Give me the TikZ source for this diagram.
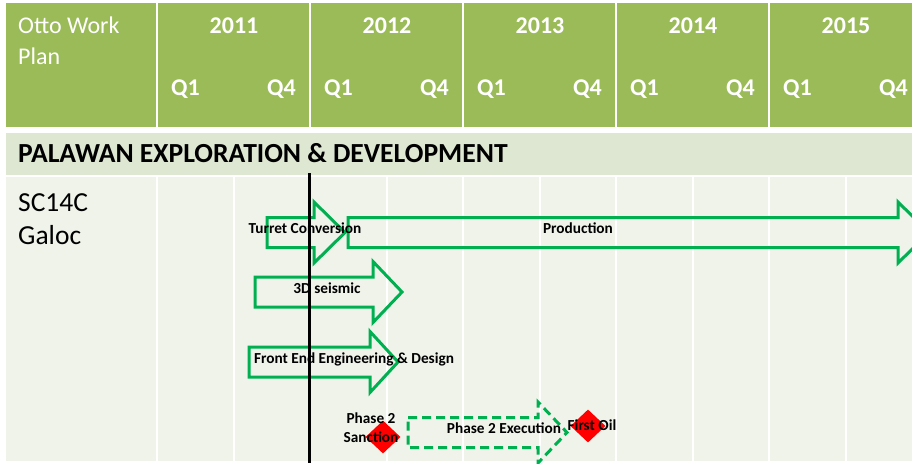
\documentclass[tikz,border=0pt]{standalone}
\usepackage{fontspec}
\setmainfont{Carlito}
\usetikzlibrary{shapes.geometric}
\definecolor{hdrgreen}{HTML}{9BBB59}
\definecolor{bandgreen}{HTML}{DEE7D2}
\definecolor{rowgreen}{HTML}{EFF3EA}
\definecolor{taskgreen}{HTML}{00B050}
\tikzstyle{hdrtext} =
[text=white, inner sep=0pt, font=\fontsize{24}{31}\selectfont\bfseries]
\tikzstyle{rowtext} =
[inner sep=0pt, align=left, font=\fontsize{27.5}{33}\selectfont]
\tikzstyle{gridline} = [draw=white, line width=2pt]
\tikzstyle{task} = [draw=taskgreen, line width=3pt, miter limit=20]
\tikzstyle{plannedtask} = [task, dash pattern=on 9pt off 5pt]
\tikzstyle{tasklabel} =
[inner sep=0pt, align=center, font=\fontsize{15.3}{19}\selectfont\bfseries]
\tikzstyle{milestone} =
[diamond, fill=red, minimum width=35pt, minimum height=33pt, inner sep=0pt]
% block arrow: style, tail x, head x, tip x, centre y
\newcommand{\taskarrow}[5]{%
  \draw [#1] (#2,#5-15) -- (#3,#5-15) -- (#3,#5-30.5) -- (#4,#5)
    -- (#3,#5+30.5) -- (#3,#5+15) -- (#2,#5+15) -- cycle;}

\begin{document}
\begin{tikzpicture}[x=1pt, y=-1pt]
  \useasboundingbox (0,0) rectangle (912,463);
  \clip (0,0) rectangle (912,463);
  % header row
  \fill [hdrgreen] (6,3) rectangle (912,127);
  \node [hdrtext, font=\fontsize{24}{31}\selectfont, anchor=base west,
    align=left] (plan) at (18,64) {Otto Work\\Plan};
  \foreach \yr [count=\i from 0] in {2011,2012,2013,2014,2015} {
    \path [gridline] (157+153*\i,3) -- (157+153*\i,127);
    \node [hdrtext, anchor=base] (yr\yr) at (234+153*\i,33) {\yr};
    \node [hdrtext, anchor=base west] (qa\yr) at (171+153*\i,95) {Q1};
    \node [hdrtext, anchor=base east] (qd\yr) at (296+153*\i,95) {Q4};
  }
  %
  % section band
  \fill [bandgreen] (6,133) rectangle (912,175);
  \node [rowtext, font=\fontsize{27.6}{33}\selectfont\bfseries, anchor=base west]
    (palawan) at (18,162) {PALAWAN EXPLORATION \& DEVELOPMENT};
  %
  % body row with half year grid
  \fill [rowgreen] (6,177) rectangle (912,461);
  \foreach \k in {0,...,9}
    \path [gridline] (157+76.5*\k,177) -- (157+76.5*\k,461);
  \node [rowtext, anchor=base west] (galoc) at (18,244) {SC14C\\Galoc};
  %
  % task arrows
  \taskarrow{task}{267}{314}{345}{232.5}
  \taskarrow{task}{348}{898}{929}{232.5}
  \taskarrow{task}{255}{373}{402}{292}
  \taskarrow{task}{249}{370}{398}{362}
  \taskarrow{plannedtask}{408}{538}{567}{432.5}
  % today line
  \coordinate (nowtop) at (309,173);
  \coordinate (nowbot) at (309,463);
  \draw [line width=3pt] (nowtop) -- (nowbot);
  % milestones
  \node [milestone] (sanction) at (383,437) {};
  \node [milestone] (firstoil) at (588,426) {};
  % task labels
  \node [tasklabel, anchor=base] (turretlbl) at (305,233) {Turret Conversion};
  \node [tasklabel, anchor=base] (prodlbl) at (578,233) {Production};
  \node [tasklabel, anchor=base] (seismiclbl) at (327,293) {3D seismic};
  \node [tasklabel, anchor=base] (feedlbl) at (354,363)
    {Front End Engineering \& Design};
  \node [tasklabel, anchor=base] (sanctionlbl) at (371,442)
    {Phase 2\\Sanction};
  \node [tasklabel, anchor=base] (execlbl) at (504,433) {Phase 2 Execution};
  \node [tasklabel, anchor=base] (firstoillbl) at (592,430) {First Oil};
\end{tikzpicture}
\end{document}
